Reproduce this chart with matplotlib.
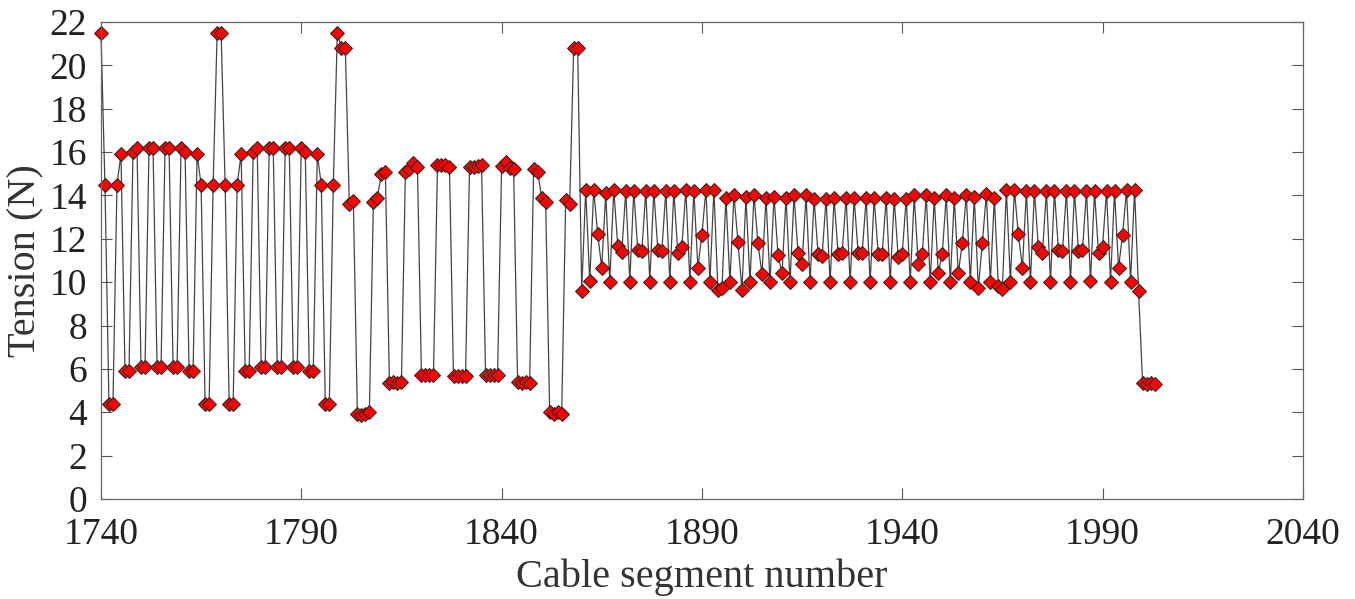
import numpy as np
import matplotlib
matplotlib.use('Agg')
import matplotlib.pyplot as plt

# segment numbers 1740..2003, one tension reading each
segment = np.arange(1740, 2004)
tension = [
    21.5, 14.5, 4.4, 4.4, 14.5, 15.9, 5.9, 5.9, 16.0, 16.2,         # 1740
    6.1, 6.1, 16.2, 16.2, 6.1, 6.1, 16.2, 16.2, 6.1, 6.1,           # 1750
    16.2, 16.0, 5.9, 5.9, 15.9, 14.5, 4.4, 4.4, 14.5, 21.5,         # 1760
    21.5, 14.5, 4.4, 4.4, 14.5, 15.9, 5.9, 5.9, 16.0, 16.2,         # 1770
    6.1, 6.1, 16.2, 16.2, 6.1, 6.1, 16.2, 16.2, 6.1, 6.1,           # 1780
    16.2, 16.0, 5.9, 5.9, 15.9, 14.5, 4.4, 4.4, 14.5, 21.5,         # 1790
    20.8, 20.8, 13.6, 13.75, 3.9, 3.85, 3.9, 4.0, 13.7, 13.9,       # 1800
    15.0, 15.1, 5.35, 5.4, 5.35, 5.4, 15.1, 15.2, 15.5, 15.3,       # 1810
    5.72, 5.72, 5.72, 5.72, 15.4, 15.4, 15.4, 15.3, 5.65, 5.65,     # 1820
    5.65, 5.65, 15.3, 15.3, 15.35, 15.4, 5.72, 5.72, 5.72, 5.72,    # 1830
    15.35, 15.55, 15.25, 15.2, 5.4, 5.35, 5.4, 5.35, 15.2, 15.1,    # 1840
    13.9, 13.7, 4.0, 3.9, 4.0, 3.9, 13.8, 13.6, 20.8, 20.8,         # 1850
    9.6, 14.26, 10.06, 14.26, 12.2, 10.67, 14.1, 10.03, 14.26, 11.69,   # 1860
    11.38, 14.2, 10.03, 14.2, 11.49, 11.44, 14.2, 10.03, 14.2, 11.5,    # 1870
    11.45, 14.2, 10.03, 14.2, 11.34, 11.64, 14.26, 10.03, 14.2, 10.67,  # 1880
    12.18, 14.26, 10.03, 14.26, 9.64, 9.72, 13.9, 10.0, 14.0, 11.87,    # 1890
    9.64, 13.95, 10.0, 14.0, 11.8, 10.37, 13.9, 10.0, 13.95, 11.26,     # 1900
    10.41, 13.9, 10.0, 14.0, 11.34, 10.83, 14.0, 10.0, 13.84, 11.3,     # 1910
    11.2, 13.84, 10.0, 13.87, 11.3, 11.34, 13.87, 10.0, 13.87, 11.34,   # 1920
    11.34, 13.87, 10.0, 13.9, 11.3, 11.3, 13.87, 10.0, 13.84, 11.15,    # 1930
    11.3, 13.84, 10.0, 14.0, 10.83, 11.3, 14.0, 10.0, 13.9, 10.41,      # 1940
    11.3, 14.0, 10.0, 13.9, 10.41, 11.8, 14.03, 10.0, 13.95, 9.72,      # 1950
    11.8, 14.06, 10.0, 13.9, 9.8, 9.7, 14.26, 10.03, 14.26, 12.2,       # 1960
    10.67, 14.2, 10.03, 14.2, 11.6, 11.34, 14.2, 10.03, 14.2, 11.5,     # 1970
    11.45, 14.2, 10.03, 14.2, 11.44, 11.49, 14.2, 10.06, 14.2, 11.34,   # 1980
    11.64, 14.2, 10.03, 14.2, 10.67, 12.18, 14.26, 10.03, 14.26, 9.6,   # 1990
    5.35, 5.3, 5.35, 5.3,                                               # 2000
]
xticks = [1740, 1790, 1840, 1890, 1940, 1990, 2040]
yticks = list(range(0, 23, 2))

plt.rcParams['font.family'] = ['Liberation Serif', 'DejaVu Serif']

fig = plt.figure(figsize=(13.55, 5.99), dpi=100, facecolor='w')
ax = fig.add_axes([0.0745, 0.167, 0.887, 0.7963])

ax.plot(segment, tension, color='#444444', linewidth=0.9,
        marker='D', markersize=7, markerfacecolor='red',
        markeredgecolor='#222222', markeredgewidth=0.7, clip_on=False)

ax.set_xlim(1740, 2040)
ax.set_ylim(0, 22)
ax.set_xticks(xticks)
ax.set_yticks(yticks)
ax.tick_params(direction='in', length=8, width=0.8, colors='#555555',
               labelcolor='#222222', labelsize=27,
               top=True, right=True)
ax.tick_params(axis='y', pad=10)
ax.tick_params(axis='x', pad=13)
for s in ax.spines.values():
    s.set_color('#666666')
    s.set_linewidth(0.9)

ax.set_xlabel('Cable segment number', fontsize=29, color='#333333')
ax.set_ylabel('Tension (N)', fontsize=29, color='#333333')
ax.xaxis.set_label_coords(0.5, -0.125)
ax.yaxis.set_label_coords(-0.047, 0.5)

fig.savefig('out.png', dpi=100, facecolor='w')
